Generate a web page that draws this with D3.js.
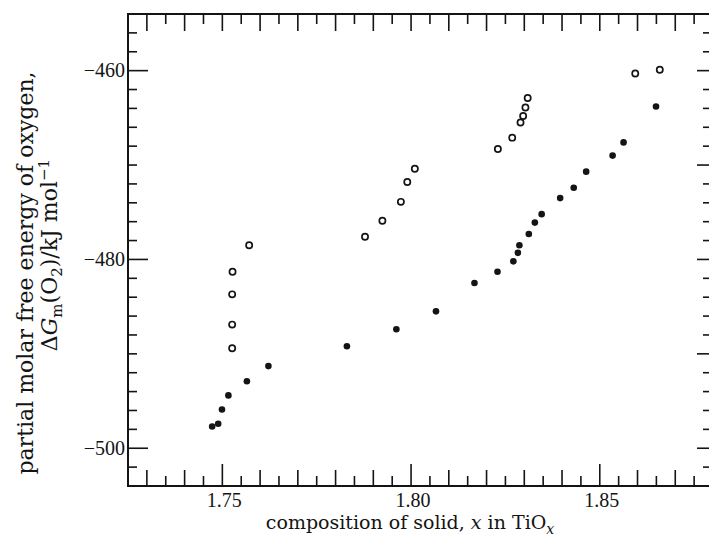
<!DOCTYPE html>
<html><head><meta charset="utf-8">
<script src="https://cdn.jsdelivr.net/npm/d3@7"></script>
<style>
body{margin:0;background:#fff}
svg{display:block}
text{fill:#141414}
</style>
</head><body>
<svg id="c" width="709" height="545"></svg>
<script>
// ---- data ----
const xLabelTicks = [1.75, 1.80, 1.85];
const yLabelTicks = [-460, -480, -500];
const openX = [1.7571, 1.7527, 1.7526, 1.7526, 1.7526, 1.7878, 1.7924, 1.7973, 1.7990, 1.8010,
               1.8230, 1.8268, 1.8290, 1.8297, 1.8303, 1.8309, 1.8594, 1.8659];
const openY = [-478.5, -481.3, -483.7, -486.9, -489.4, -477.6, -475.9, -473.9, -471.8, -470.4,
               -468.3, -467.1, -465.5, -464.8, -463.9, -462.9, -460.3, -459.9];
const filledX = [1.7473, 1.7489, 1.7499, 1.7516, 1.7565, 1.7622, 1.7830, 1.7961, 1.8066, 1.8168,
                 1.8229, 1.8271, 1.8283, 1.8287, 1.8312, 1.8328, 1.8346, 1.8395, 1.8431, 1.8464,
                 1.8534, 1.8563, 1.8649];
const filledY = [-497.7, -497.4, -495.9, -494.4, -492.9, -491.3, -489.2, -487.4, -485.5, -482.5,
                 -481.3, -480.2, -479.3, -478.5, -477.3, -476.1, -475.2, -473.5, -472.4, -470.7,
                 -469.0, -467.6, -463.8];

// ---- chart ----
const ink = '#141414';
const serif = '"DejaVu Serif", serif';
const times = '"Liberation Serif", serif';
const L = 128, R = 713, T = 14, B = 486;
const x = d3.scaleLinear().domain([1.725, 1.88]).range([L, R]);
const y = d3.scaleLinear().domain([-504, -454]).range([B, T]);
const svg = d3.select('#c');

const xMinor = d3.range(0, 30).map(i => +(1.73 + i * 0.005).toFixed(3));
const yMinor = d3.range(0, 24).map(i => -502 + i * 2);
const isLab = (arr, v) => arr.some(a => Math.abs(a - v) < 1e-6);
const is01 = v => Math.round(v * 1000) % 10 === 0;

const g = svg.append('g').attr('stroke', ink).attr('stroke-width', 1.6).attr('fill', 'none');
// frame
g.append('line').attr('x1', L - 1).attr('x2', 709).attr('y1', T).attr('y2', T).attr('stroke-width', 1.8);
g.append('line').attr('x1', L - 1).attr('x2', 709).attr('y1', B).attr('y2', B).attr('stroke-width', 2);
g.append('line').attr('x1', L).attr('x2', L).attr('y1', T).attr('y2', B).attr('stroke-width', 2);
g.append('line').attr('x1', R).attr('x2', R).attr('y1', T).attr('y2', B).attr('stroke-width', 2);

// top ticks
g.selectAll('.tt').data(xMinor).join('line')
  .attr('x1', d => x(d)).attr('x2', d => x(d))
  .attr('y1', T).attr('y2', d => T + (is01(d) ? 17 : 10));
// bottom ticks
g.selectAll('.bt').data(xMinor).join('line')
  .attr('x1', d => x(d)).attr('x2', d => x(d))
  .attr('y1', B).attr('y2', d => B - (isLab(xLabelTicks, d) ? 22 : is01(d) ? 16 : 10));
// left ticks
g.selectAll('.lt').data(yMinor).join('line')
  .attr('y1', d => y(d)).attr('y2', d => y(d))
  .attr('x1', L).attr('x2', d => L + (isLab(yLabelTicks, d) ? 20 : 9));
// right ticks
g.selectAll('.rt').data(yMinor).join('line')
  .attr('y1', d => y(d)).attr('y2', d => y(d))
  .attr('x1', R).attr('x2', d => R - (d % 10 === 0 ? 16 : 10));

// tick labels
svg.selectAll('.xl').data(xLabelTicks).join('text')
  .attr('x', d => x(d) + 2).attr('y', 507)
  .attr('text-anchor', 'middle')
  .style('font-family', times).style('font-size', '20px')
  .text(d => d.toFixed(2));
svg.selectAll('.yl').data(yLabelTicks).join('text')
  .attr('x', L - 3).attr('y', d => y(d)).attr('dy', '0.34em')
  .attr('text-anchor', 'end')
  .style('font-family', times).style('font-size', '20px')
  .text(d => '\u2212' + Math.abs(d));

// axis titles
const xt = svg.append('text').attr('x', 410).attr('y', 529).attr('text-anchor', 'middle')
  .style('font-family', serif).style('font-size', '19px');
xt.append('tspan').text('composition of solid, ');
xt.append('tspan').style('font-style', 'italic').text('x');
xt.append('tspan').text(' in TiO');
xt.append('tspan').attr('dy', 5).style('font-size', '14px').style('font-style', 'italic').text('x');

svg.append('text').attr('transform', 'translate(33,273) rotate(-90)').attr('text-anchor', 'middle')
  .style('font-family', serif).style('font-size', '22px')
  .text('partial molar free energy of oxygen,');

const yt = svg.append('text').attr('transform', 'translate(57,255) rotate(-90)').attr('text-anchor', 'middle')
  .style('font-family', serif).style('font-size', '22px');
yt.append('tspan').text('\u0394');
yt.append('tspan').style('font-style', 'italic').text('G');
yt.append('tspan').attr('dy', 5).style('font-size', '15px').text('m');
yt.append('tspan').attr('dy', -5).text('(O');
yt.append('tspan').attr('dy', 5).style('font-size', '15px').text('2');
yt.append('tspan').attr('dy', -5).text(')/kJ mol');
yt.append('tspan').attr('dy', -8).style('font-size', '15px').text('\u22121');

// points
const openData = openX.map((v, i) => ({x: v, y: openY[i]}));
const filledData = filledX.map((v, i) => ({x: v, y: filledY[i]}));
svg.selectAll('.op').data(openData).join('circle')
  .attr('cx', d => x(d.x)).attr('cy', d => y(d.y)).attr('r', 3.1)
  .attr('fill', '#fff').attr('stroke', ink).attr('stroke-width', 1.7);
svg.selectAll('.fp').data(filledData).join('circle')
  .attr('cx', d => x(d.x)).attr('cy', d => y(d.y)).attr('r', 3.3)
  .attr('fill', ink);
</script>
</body></html>
